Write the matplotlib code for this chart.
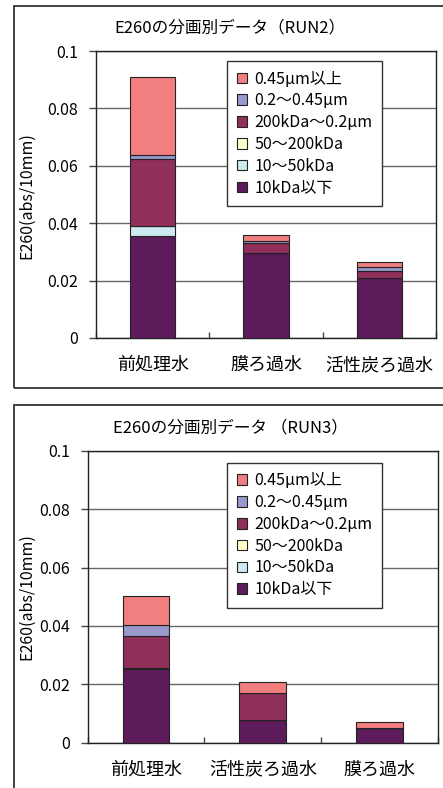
import matplotlib
matplotlib.use("Agg")
import matplotlib.pyplot as plt
from matplotlib.patches import Rectangle, Patch
import numpy as np

plt.rcParams['font.family'] = ['Noto Sans CJK JP', 'DejaVu Sans']

# Fractions, from the bottom of each stack upward
fractions = ["10kDa以下", "10～50kDa", "50～200kDa", "200kDa～0.2μm", "0.2～0.45μm", "0.45μm以上"]
colors = ["#5E1B5C", "#CCEBF0", "#FFFFCC", "#912F5B", "#9999CC", "#F27F7F"]

run2_categories = ["前処理水", "膜ろ過水", "活性炭ろ過水"]
run2_values = {
    "10kDa以下":      [0.0354, 0.0295, 0.0208],
    "10～50kDa":      [0.0037, 0.0000, 0.0000],
    "50～200kDa":     [0.0000, 0.0000, 0.0000],
    "200kDa～0.2μm": [0.0234, 0.0035, 0.0027],
    "0.2～0.45μm":   [0.0013, 0.0008, 0.0012],
    "0.45μm以上":     [0.0270, 0.0020, 0.0018],
}

run3_categories = ["前処理水", "活性炭ろ過水", "膜ろ過水"]
run3_values = {
    "10kDa以下":      [0.0252, 0.0078, 0.0051],
    "10～50kDa":      [0.0000, 0.0000, 0.0000],
    "50～200kDa":     [0.0005, 0.0000, 0.0000],
    "200kDa～0.2μm": [0.0108, 0.0091, 0.0000],
    "0.2～0.45μm":   [0.0038, 0.0000, 0.0000],
    "0.45μm以上":     [0.0099, 0.0040, 0.0019],
}

y_ticks = [0, 0.02, 0.04, 0.06, 0.08, 0.1]
y_ticklabels = ["0", "0.02", "0.04", "0.06", "0.08", "0.1"]

W, H = 443, 788
fig = plt.figure(figsize=(W / 100, H / 100), dpi=100)


def fx(px):
    return px / W


def fy(py):
    return 1 - py / H


def draw_panel(box, categories, values, title, title_y, ylab_y, frame, legend_px):
    # outer chart frame
    fx0, fy0, fx1, fy1 = frame
    fig.patches.append(Rectangle((fx(fx0), fy(fy1)), fx(fx1) - fx(fx0), fy(fy0) - fy(fy1),
                                 transform=fig.transFigure, fill=False,
                                 edgecolor="#222222", linewidth=1.2, zorder=0))
    l, t, r, b = box
    ax = fig.add_axes([fx(l), fy(b), fx(r) - fx(l), fy(t) - fy(b)])
    x = np.arange(len(categories))
    bottom = np.zeros(len(categories))
    for name, c in zip(fractions, colors):
        v = np.array(values[name])
        ax.bar(x, v, width=0.4, bottom=bottom, color=c, edgecolor="#222222",
               linewidth=0.8, zorder=3)
        bottom += v
    ax.set_xlim(-0.5, len(categories) - 0.5)
    ax.set_ylim(0, 0.1)
    ax.set_yticks(y_ticks)
    ax.set_yticklabels(y_ticklabels, fontsize=11.5)
    ax.yaxis.grid(True, color="#666666", linewidth=1.0, zorder=0)
    ax.tick_params(axis="y", direction="out", length=5, width=1, pad=8, colors="#444444",
                   labelcolor="black")
    # category labels centred under bars, ticks on category boundaries
    ax.set_xticks(x)
    ax.set_xticklabels(categories, fontsize=13)
    ax.tick_params(axis="x", length=0, pad=13)
    ax.set_xticks(np.arange(len(categories) + 1) - 0.5, minor=True)
    ax.tick_params(axis="x", which="minor", direction="in", length=4, width=1, color="#444444")
    for s in ax.spines.values():
        s.set_color("#222222")
        s.set_linewidth(1.0)
    ax.set_axisbelow(True)

    handles = [Patch(facecolor=c, edgecolor="#222222", linewidth=0.8, label=n)
               for n, c in zip(fractions, colors)][::-1]
    lx, ly = legend_px
    leg = ax.legend(handles=handles, loc="upper left",
                    bbox_to_anchor=((lx - l) / (r - l), (b - ly) / (b - t)),
                    fontsize=11.5, frameon=True, fancybox=False, framealpha=1,
                    edgecolor="#333333", handlelength=0.65, handleheight=0.65,
                    handletextpad=0.45, labelspacing=0.3, borderpad=0.6,
                    borderaxespad=0)
    leg.get_frame().set_linewidth(1.0)
    leg.set_zorder(5)

    fig.text(fx(230), fy(title_y), title, ha="center", va="center", fontsize=12)
    fig.text(fx(27), fy(ylab_y), "E260(abs/10mm)", ha="center", va="center",
             rotation=90, fontsize=11.5)
    return ax


draw_panel((96, 51, 436, 338), run2_categories, run2_values,
           "E260の分画別データ（RUN2）", 28, 196, (14, 6, 460, 388), (227, 61))
draw_panel((87.7, 450.7, 438, 742.7), run3_categories, run3_values,
           "E260の分画別データ （RUN3）", 428, 597, (14, 405, 460, 800), (227, 462.7))

fig.savefig("out.png", dpi=100, facecolor="white")
